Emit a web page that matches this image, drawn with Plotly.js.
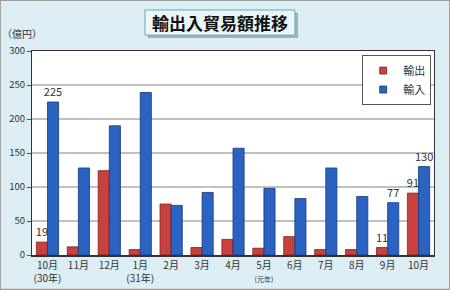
<!DOCTYPE html>
<html><head><meta charset="utf-8">
<script src="https://cdn.plot.ly/plotly-3.0.1.min.js"></script>
<style>body{margin:0;padding:0;}#c{width:450px;height:290px;}</style>
</head><body><div id="c"></div>
<script>
const categories = ["10月<br>(30年)","11月","12月","1月<br>(31年)","2月","3月","4月","5月<br><span style='font-size:7px'>(元年)</span>","6月","7月","8月","9月","10月"];
const exportsVals = [19,12,124,8,75,11,23,10,27,8,8,11,91];
const importsVals = [225,128,190,239,73,92,157,98,83,128,86,77,130];
const exportsText = ["19","","","","","","","","","","","11","91"];
const importsText = ["225","","","","","","","","","","","77","130"];
const yTicks = [0,50,100,150,200,250,300];
const seriesNames = ['輸出','輸入'];
const seriesColors = ['#c8413f','#2a63c2'];
const seriesLines = ['#7a2422','#163a78'];

const font = "Noto Sans CJK JP, Noto Sans, sans-serif";
const vals = [exportsVals, importsVals];
const texts = [exportsText, importsText];
const traces = [];
for (let i = 0; i < 2; i++) {
  traces.push({type:'bar', name:seriesNames[i], x:categories, y:vals[i], text:texts[i], textposition:'outside',
    constraintext:'none', textfont:{size:11,color:'#333'}, cliponaxis:false, showlegend:false,
    marker:{color:seriesColors[i], line:{color:seriesLines[i], width:0.8}}});
}
for (let i = 0; i < 2; i++) {
  traces.push({type:'scatter', mode:'markers', name:seriesNames[i], x:[null], y:[null], showlegend:true,
    marker:{symbol:'square', size:7, color:seriesColors[i], line:{color:seriesLines[i], width:0.8}}});
}
const layout = {
  width:450, height:290,
  margin:{l:32, r:16, t:51, b:35},
  paper_bgcolor:'#dcedf4', plot_bgcolor:'#ffffff',
  font:{family:font, size:10, color:'#333'},
  bargap:0.28, bargroupgap:0,
  showlegend:true,
  legend:{x:0.993, xanchor:'right', y:0.98, yanchor:'top', bgcolor:'#ffffff', bordercolor:'#555', borderwidth:1,
          font:{size:11,color:'#333'}, itemwidth:30, tracegroupgap:2},
  xaxis:{type:'category', showline:true, linecolor:'#333', linewidth:1.5, mirror:true, ticks:'', tickfont:{size:10,color:'#333'}},
  yaxis:{range:[0,300], tickvals:yTicks, showgrid:true, gridcolor:'#c0c0c0', gridwidth:1.5,
         showline:true, linecolor:'#333', linewidth:1, mirror:true, ticks:'outside', ticklen:4, tickcolor:'#555',
         tickfont:{size:9.5,color:'#333'}, zeroline:false},
  annotations:[
    {text:'<b>輸出入貿易額推移</b>', xref:'paper', yref:'paper', x:0.4675, y:1.14, xanchor:'center', yanchor:'middle', showarrow:false,
     font:{size:17,color:'#111',family:font}},
    {text:'（億円）', xref:'paper', yref:'paper', x:-0.08, y:1.04, xanchor:'left', yanchor:'bottom', showarrow:false,
     font:{size:10,color:'#333'}}
  ],
  shapes:[
    {type:'rect', xref:'paper', yref:'paper', x0:-0.08, x1:1.04, y0:-0.17, y1:1.25, line:{color:'#9a9a9a', width:2}, layer:'below'},
    {type:'rect', xref:'paper', yref:'paper', x0:0.288, x1:0.662, y0:1.064, y1:1.187, fillcolor:'#9fb3ba', line:{width:0}, layer:'below'},
    {type:'rect', xref:'paper', yref:'paper', x0:0.281, x1:0.654, y0:1.078, y1:1.201, fillcolor:'#eaf6f9', line:{color:'#6aa9bf', width:1}, layer:'below'}
  ]
};
Plotly.newPlot('c', traces, layout, {displayModeBar:false, staticPlot:true});
</script></body></html>
